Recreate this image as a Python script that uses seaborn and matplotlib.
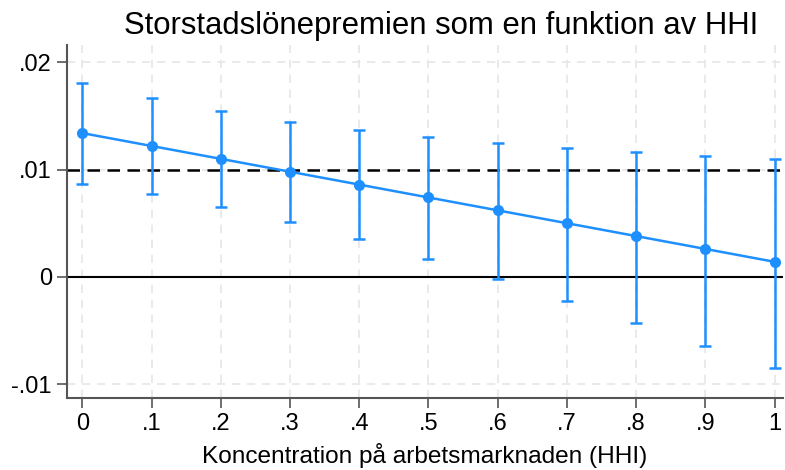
import matplotlib
matplotlib.use("Agg")
import matplotlib.pyplot as plt
import seaborn as sns
import numpy as np
import pandas as pd
from matplotlib.ticker import FixedLocator, FixedFormatter

hhi = [0.0, 0.1, 0.2, 0.3, 0.4, 0.5, 0.6, 0.7, 0.8, 0.9, 1.0]
estimate = [0.0134, 0.0122, 0.0110, 0.0098, 0.0086, 0.0074, 0.0062, 0.0050, 0.0038, 0.0026, 0.0014]
ci_upper = [0.0181, 0.0167, 0.0155, 0.0144, 0.0137, 0.0130, 0.0125, 0.0120, 0.01165, 0.0113, 0.0110]
ci_lower = [0.0087, 0.0077, 0.0065, 0.0051, 0.0035, 0.0017, -0.0002, -0.00225, -0.0043, -0.0064, -0.0085]
xtick_vals = [0, 0.1, 0.2, 0.3, 0.4, 0.5, 0.6, 0.7, 0.8, 0.9, 1.0]
xtick_labels = ["0", ".1", ".2", ".3", ".4", ".5", ".6", ".7", ".8", ".9", "1"]
ytick_vals = [-0.01, 0, 0.01, 0.02]
ytick_labels = ["-.01", "0", ".01", ".02"]
title = "Storstadslönepremien som en funktion av HHI"
xlabel = "Koncentration på arbetsmarknaden (HHI)"

sns.set_theme(style="white")
plt.rcParams['font.family'] = ['Liberation Sans', 'DejaVu Sans']
plt.rcParams['text.color'] = 'black'
plt.rcParams['axes.labelcolor'] = 'black'

df = pd.DataFrame({"hhi": hhi, "est": estimate, "lo": ci_lower, "hi": ci_upper})
blue = "#1E8FFF"

fig = plt.figure(figsize=(7.85, 4.70), dpi=100)
ax = fig.add_axes([0.0854, 0.153, 0.912, 0.751])

# grid
for xv in xtick_vals:
    ax.axvline(xv, color="#e6e6e6", lw=1.2, ls=(0, (5, 4)), zorder=0)
for yv in ytick_vals:
    ax.axhline(yv, color="#e6e6e6", lw=1.2, ls=(0, (5, 4)), zorder=0)

ax.axhline(0, color="black", lw=1.5, zorder=1)
ax.axhline(0.01, color="black", lw=1.8, ls=(0, (5, 3)), zorder=1)

yerr = np.vstack([df["est"] - df["lo"], df["hi"] - df["est"]])
ax.errorbar(df["hhi"], df["est"], yerr=yerr, fmt="none", ecolor=blue,
            elinewidth=1.8, capsize=4, capthick=1.8, zorder=3)
sns.lineplot(data=df, x="hhi", y="est", ax=ax, color=blue, lw=1.8,
             marker="o", markersize=8, markeredgewidth=0, zorder=4)

ax.set_xlim(-0.022, 1.012)
ax.set_ylim(-0.0113, 0.0216)
ax.xaxis.set_major_locator(FixedLocator(xtick_vals))
ax.xaxis.set_major_formatter(FixedFormatter(xtick_labels))
ax.yaxis.set_major_locator(FixedLocator(ytick_vals))
ax.yaxis.set_major_formatter(FixedFormatter(ytick_labels))
ax.tick_params(axis="both", which="major", direction="out", length=7, width=1.2,
               color="#555555", labelsize=17, labelcolor="black", pad=4,
               bottom=True, left=True)

for s in ["top", "right"]:
    ax.spines[s].set_visible(False)
for s in ["left", "bottom"]:
    ax.spines[s].set_color("#555555")
    ax.spines[s].set_linewidth(1.5)

ax.set_xlabel(xlabel, fontsize=17.6)
ax.xaxis.set_label_coords(0.5, -0.128)
ax.set_ylabel("")
ax.set_title(title, fontsize=22.4, pad=8, x=0.522)

fig.savefig("out.png", dpi=100)
